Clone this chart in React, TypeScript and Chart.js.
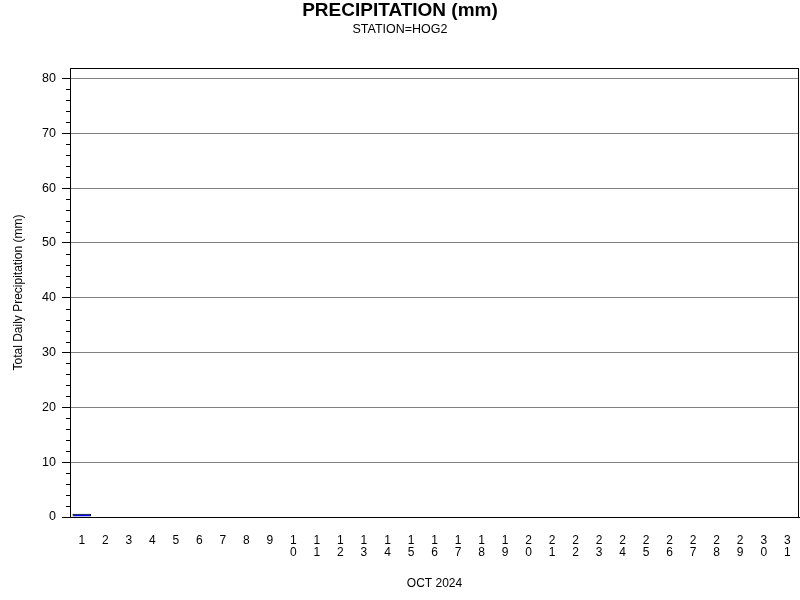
import React, { useEffect, useRef } from "react";
import { Chart, registerables } from "chart.js";

Chart.register(...registerables);

// Daily precipitation totals for October 2024 (mm)
const days: number[] = Array.from({ length: 31 }, (_, i) => i + 1);
const dayLabels: (string | string[])[] = days.map((d) =>
  d < 10 ? String(d) : String(d).split("")
);
const precipitation: number[] = [
  0.6, 0, 0, 0, 0, 0, 0, 0, 0, 0,
  0, 0, 0, 0, 0, 0, 0, 0, 0, 0,
  0, 0, 0, 0, 0, 0, 0, 0, 0, 0,
  0,
];
const yMajorTicks: number[] = [0, 10, 20, 30, 40, 50, 60, 70, 80];

const titleText = "PRECIPITATION (mm)";
const subtitleText = "STATION=HOG2";
const xTitle = "OCT 2024";
const yTitle = "Total Daily Precipitation (mm)";

const FONT = "'Liberation Sans', Arial, sans-serif";

// Frame, minor tick marks and heading text
const decorations = {
  id: "decorations",
  afterDraw(chart: Chart) {
    const { ctx, chartArea } = chart;
    const y = chart.scales.y;
    ctx.save();
    // minor ticks every 2 mm
    ctx.strokeStyle = "#000";
    ctx.lineWidth = 1;
    for (let v = 0; v <= 80; v += 2) {
      if (v % 10 === 0) continue;
      const py = Math.round(y.getPixelForValue(v)) + 0.5;
      ctx.beginPath();
      ctx.moveTo(chartArea.left - 4, py);
      ctx.lineTo(chartArea.left, py);
      ctx.stroke();
    }
    // plot frame
    ctx.strokeRect(
      Math.round(chartArea.left) + 0.5,
      Math.round(chartArea.top) + 0.5,
      Math.round(chartArea.right - chartArea.left) - 1,
      Math.round(chartArea.bottom - chartArea.top)
    );
    // heading
    ctx.fillStyle = "#000";
    ctx.textAlign = "center";
    ctx.textBaseline = "middle";
    ctx.font = `bold 19px ${FONT}`;
    ctx.fillText(titleText, 400, 11);
    ctx.font = `12.5px ${FONT}`;
    ctx.fillText(subtitleText, 400, 30);
    ctx.restore();
  },
};

export default function App() {
  const ref = useRef<HTMLCanvasElement | null>(null);

  useEffect(() => {
    document.body.style.margin = "0";
    if (!ref.current) return;
    const chart = new Chart(ref.current, {
      type: "bar",
      data: {
        labels: dayLabels,
        datasets: [
          {
            data: precipitation,
            backgroundColor: "#0000ff",
            borderColor: "#000000",
            borderWidth: 1,
            borderSkipped: "start",
            categoryPercentage: 1,
            barPercentage: 0.79,
          },
        ],
      },
      options: {
        responsive: false,
        animation: false,
        events: [],
        layout: { padding: { top: 68, left: 0, right: 1, bottom: 0 } },
        plugins: {
          legend: { display: false },
          tooltip: { enabled: false },
          title: { display: false },
        },
        scales: {
          x: {
            type: "category",
            offset: true,
            // invisible tick marks push the day labels down
            grid: {
              display: true,
              drawOnChartArea: false,
              drawTicks: true,
              tickLength: 18,
              tickColor: "rgba(0,0,0,0)",
              color: "rgba(0,0,0,0)",
            },
            border: { display: true, color: "#000" },
            ticks: {
              autoSkip: false,
              maxRotation: 0,
              minRotation: 0,
              padding: 0,
              color: "#000",
              font: { family: FONT, size: 12, lineHeight: 1.0 },
            },
            title: {
              display: true,
              text: xTitle,
              color: "#000",
              font: { family: FONT, size: 12, lineHeight: 1.2 },
              padding: { top: 0, bottom: 9 },
            },
            afterFit(scale: any) {
              scale.height = 83;
              scale.paddingLeft = 0;
              scale.paddingRight = 0;
            },
          },
          y: {
            type: "linear",
            min: 0,
            max: 81.9,
            grid: {
              color: "#808080",
              tickColor: "#000",
              tickLength: 8,
              drawTicks: true,
            },
            border: { display: true, color: "#000" },
            afterBuildTicks(scale: any) {
              scale.ticks = yMajorTicks.map((v) => ({ value: v }));
            },
            ticks: {
              padding: 6,
              color: "#000",
              font: { family: FONT, size: 12.5 },
            },
            title: {
              display: true,
              text: yTitle,
              color: "#000",
              font: { family: FONT, size: 12, lineHeight: 1.2 },
              padding: { top: 11, bottom: 0 },
            },
            afterFit(scale: any) {
              scale.width = 70;
            },
          },
        },
      },
      plugins: [decorations],
    });
    return () => chart.destroy();
  }, []);

  return (
    <div style={{ position: "absolute", left: 0, top: 0, width: 800, height: 600, background: "#fff" }}>
      <canvas ref={ref} width={800} height={600} />
    </div>
  );
}
